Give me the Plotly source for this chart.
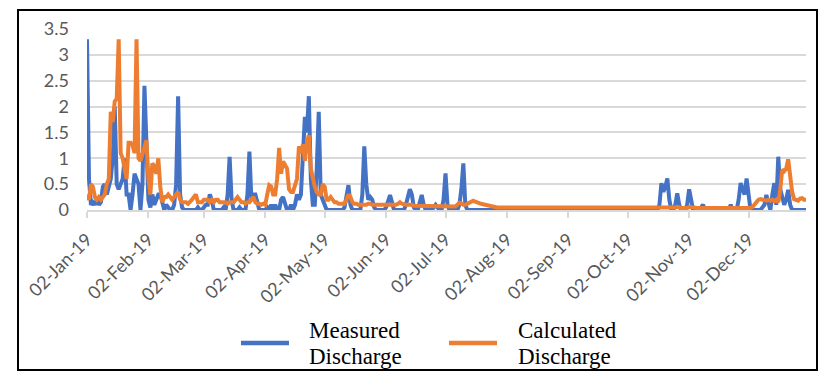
import plotly.graph_objects as go
import pandas as pd

# ---------------- data (daily, 02-Jan-2019 .. 31-Dec-2019) ----------------
start_date = "2019-01-02"
end_date = "2019-12-31"

measured_jan = [3.3, 0.6, 0.1, 0.15, 0.1, 0.2, 0.1, 0.15, 0.45, 0.5, 0.3, 0.45, 0.6, 1.0, 2.0,
                0.5, 0.4, 0.5, 0.6, 1.0, 0.3, 0.3, 0.0, 0.3, 0.7, 0.6, 0.5, 0.0, 0.5, 2.4]
measured_feb = [1.0, 0.2, 0.05, 0.3, 0.1, 0.2, 0.3, 0.3, 0.1, 0.0, 0.1, 0.05, 0.0, 0.0, 0.1,
                0.5, 2.2, 0.3, 0.05, 0.0, 0.0, 0.0, 0.0, 0.0, 0.0, 0.0, 0.05, 0.0]
measured_mar = [0.0, 0.05, 0.1, 0.1, 0.3, 0.2, 0.0, 0.0, 0.0, 0.0, 0.0, 0.05, 0.0, 0.3, 1.03,
                0.2, 0.0, 0.0, 0.0, 0.05, 0.0, 0.0, 0.0, 0.3, 1.13, 0.2, 0.3, 0.3, 0.1, 0.0, 0.0]
measured_apr = [0.0, 0.0, 0.05, 0.0, 0.1, 0.0, 0.1, 0.0, 0.0, 0.2, 0.25, 0.1, 0.0, 0.0, 0.1,
                0.0, 0.1, 0.3, 0.2, 0.3, 1.0, 1.8, 1.5, 2.2, 0.6, 0.1, 0.1, 0.8, 1.9, 0.3]
measured_may = [0.2, 0.1, 0.0, 0.0, 0.0, 0.0, 0.0, 0.0, 0.0, 0.0, 0.0, 0.05, 0.3, 0.48, 0.1,
                0.0, 0.0, 0.0, 0.0, 0.0, 0.3, 1.23, 0.5, 0.2, 0.25, 0.2, 0.05, 0.0, 0.0, 0.0, 0.0]
measured_jun = [0.0, 0.05, 0.2, 0.29, 0.15, 0.0, 0.0, 0.0, 0.0, 0.0, 0.0, 0.1, 0.3, 0.4, 0.3,
                0.05, 0.0, 0.0, 0.15, 0.29, 0.1, 0.0, 0.0, 0.0, 0.0, 0.05, 0.1, 0.05, 0.0, 0.0]
measured_jul = [0.2, 0.71, 0.1, 0.0, 0.0, 0.0, 0.0, 0.0, 0.1, 0.4, 0.9, 0.1, 0.0, 0.0, 0.0,
                0.0, 0.0, 0.0, 0.0, 0.0, 0.0, 0.0, 0.0, 0.0, 0.0, 0.0, 0.0, 0.0, 0.0, 0.0, 0.0]
measured_aug = [0.0, 0.0, 0.0, 0.0, 0.0, 0.0, 0.0, 0.0, 0.0, 0.0, 0.0, 0.0, 0.0, 0.0, 0.0,
                0.0, 0.0, 0.0, 0.0, 0.0, 0.0, 0.0, 0.0, 0.0, 0.0, 0.0, 0.0, 0.0, 0.0, 0.0, 0.0]
measured_sep = [0.0, 0.0, 0.0, 0.0, 0.0, 0.0, 0.0, 0.0, 0.0, 0.0, 0.0, 0.0, 0.0, 0.0, 0.0,
                0.0, 0.0, 0.0, 0.0, 0.0, 0.0, 0.0, 0.0, 0.0, 0.0, 0.0, 0.0, 0.0, 0.0, 0.0]
measured_oct = [0.0, 0.0, 0.0, 0.0, 0.0, 0.0, 0.0, 0.0, 0.0, 0.0, 0.0, 0.0, 0.0, 0.0, 0.0,
                0.0, 0.0, 0.1, 0.52, 0.35, 0.45, 0.61, 0.2, 0.0, 0.0, 0.1, 0.32, 0.1, 0.0, 0.0, 0.0]
measured_nov = [0.1, 0.4, 0.2, 0.0, 0.0, 0.0, 0.0, 0.05, 0.1, 0.0, 0.0, 0.0, 0.0, 0.0, 0.0,
                0.0, 0.0, 0.0, 0.0, 0.0, 0.0, 0.0, 0.1, 0.0, 0.0, 0.0, 0.2, 0.52, 0.4, 0.3]
measured_dec = [0.61, 0.3, 0.0, 0.0, 0.0, 0.0, 0.0, 0.0, 0.05, 0.1, 0.29, 0.1, 0.0, 0.3, 0.52,
                0.1, 1.03, 0.4, 0.2, 0.1, 0.2, 0.39, 0.1, 0.0, 0.0, 0.0, 0.0, 0.0, 0.0, 0.0, 0.0]

calculated_jan = [0.3, 0.2, 0.5, 0.45, 0.25, 0.2, 0.25, 0.2, 0.25, 0.3, 0.5, 0.6, 1.9, 1.7, 2.1,
                  2.15, 3.3, 1.1, 1.0, 0.8, 0.6, 1.3, 1.3, 1.25, 1.1, 3.3, 1.0, 0.95, 1.1, 1.25]
calculated_feb = [1.35, 0.6, 0.3, 0.9, 0.85, 0.7, 1.0, 0.45, 0.15, 0.25, 0.25, 0.3, 0.25, 0.2, 0.25,
                  0.3, 0.35, 0.2, 0.15, 0.15, 0.15, 0.12, 0.15, 0.2, 0.25, 0.3, 0.15, 0.15]
calculated_mar = [0.15, 0.2, 0.2, 0.2, 0.15, 0.2, 0.15, 0.2, 0.2, 0.15, 0.15, 0.15, 0.15, 0.12, 0.15,
                  0.15, 0.15, 0.2, 0.25, 0.2, 0.15, 0.15, 0.12, 0.15, 0.15, 0.2, 0.25, 0.15, 0.12, 0.12, 0.1]
calculated_apr = [0.12, 0.1, 0.3, 0.48, 0.45, 0.3, 0.3, 0.6, 1.2, 0.7, 0.94, 0.85, 0.8, 0.4, 0.35,
                  0.35, 0.5, 0.6, 1.23, 1.1, 1.27, 0.95, 1.3, 1.45, 0.8, 0.6, 0.45, 0.35, 0.3, 0.3]
calculated_may = [0.5, 0.45, 0.2, 0.2, 0.25, 0.2, 0.15, 0.15, 0.12, 0.12, 0.12, 0.12, 0.2, 0.3, 0.25,
                  0.15, 0.12, 0.12, 0.1, 0.1, 0.1, 0.1, 0.1, 0.12, 0.12, 0.1, 0.1, 0.1, 0.1, 0.1, 0.1]
calculated_jun = [0.1, 0.1, 0.1, 0.1, 0.1, 0.1, 0.1, 0.12, 0.15, 0.12, 0.1, 0.1, 0.1, 0.1, 0.1,
                  0.08, 0.08, 0.08, 0.08, 0.08, 0.08, 0.08, 0.08, 0.08, 0.08, 0.07, 0.07, 0.07, 0.07, 0.07]
calculated_jul = [0.07, 0.07, 0.07, 0.07, 0.07, 0.07, 0.07, 0.1, 0.14, 0.13, 0.1, 0.1, 0.12, 0.15, 0.17,
                  0.18, 0.16, 0.14, 0.13, 0.12, 0.11, 0.1, 0.09, 0.08, 0.07, 0.06, 0.06, 0.05, 0.05, 0.05, 0.05]
calculated_aug = [0.05, 0.05, 0.05, 0.05, 0.05, 0.05, 0.05, 0.05, 0.05, 0.05, 0.05, 0.05, 0.05, 0.05, 0.05,
                  0.05, 0.05, 0.05, 0.04, 0.04, 0.04, 0.04, 0.04, 0.04, 0.04, 0.04, 0.04, 0.04, 0.04, 0.04, 0.04]
calculated_sep = [0.04, 0.04, 0.04, 0.04, 0.04, 0.04, 0.04, 0.04, 0.04, 0.04, 0.04, 0.04, 0.04, 0.04, 0.04,
                  0.04, 0.04, 0.04, 0.04, 0.04, 0.04, 0.04, 0.04, 0.04, 0.04, 0.04, 0.04, 0.04, 0.04, 0.04]
calculated_oct = [0.04, 0.04, 0.04, 0.04, 0.04, 0.04, 0.04, 0.04, 0.04, 0.04, 0.04, 0.04, 0.04, 0.04, 0.04,
                  0.04, 0.04, 0.04, 0.04, 0.04, 0.04, 0.04, 0.04, 0.04, 0.04, 0.05, 0.06, 0.04, 0.04, 0.04, 0.04]
calculated_nov = [0.04, 0.06, 0.05, 0.04, 0.04, 0.04, 0.04, 0.04, 0.04, 0.04, 0.04, 0.04, 0.04, 0.04, 0.04,
                  0.04, 0.04, 0.04, 0.04, 0.04, 0.04, 0.04, 0.04, 0.04, 0.04, 0.04, 0.04, 0.04, 0.04, 0.04]
calculated_dec = [0.04, 0.04, 0.04, 0.06, 0.1, 0.15, 0.2, 0.21, 0.2, 0.2, 0.18, 0.2, 0.18, 0.2, 0.17,
                  0.2, 0.15, 0.4, 0.78, 0.75, 0.8, 0.98, 0.65, 0.35, 0.21, 0.2, 0.18, 0.22, 0.23, 0.2, 0.2]

tick_dates = ["2019-01-02", "2019-02-02", "2019-03-02", "2019-04-02", "2019-05-02", "2019-06-02",
              "2019-07-02", "2019-08-02", "2019-09-02", "2019-10-02", "2019-11-02", "2019-12-02"]
tick_labels = ["02-Jan-19", "02-Feb-19", "02-Mar-19", "02-Apr-19", "02-May-19", "02-Jun-19",
               "02-Jul-19", "02-Aug-19", "02-Sep-19", "02-Oct-19", "02-Nov-19", "02-Dec-19"]

series_names = ["Measured", "Calculated"]
series_colors = ["#4472C4", "#ED7D31"]

measured = (measured_jan + measured_feb + measured_mar + measured_apr + measured_may + measured_jun +
            measured_jul + measured_aug + measured_sep + measured_oct + measured_nov + measured_dec)
calculated = (calculated_jan + calculated_feb + calculated_mar + calculated_apr + calculated_may +
              calculated_jun + calculated_jul + calculated_aug + calculated_sep + calculated_oct +
              calculated_nov + calculated_dec)
dates = pd.date_range(start_date, end_date, freq="D")

# ---------------- figure ----------------
W, H = 831, 381
L, R, T, B = 87, 25, 29, 171
PW, PH = W - L - R, H - T - B


def px(x):
    return (x - L) / PW


def py(y):
    return (H - B - y) / PH


fig = go.Figure()
fig.add_trace(go.Scatter(x=dates, y=measured, mode="lines", name="Measured Discharge",
                         line=dict(color=series_colors[0], width=4)))
fig.add_trace(go.Scatter(x=dates, y=calculated, mode="lines", name="Calculated Discharge",
                         line=dict(color=series_colors[1], width=4)))

tick_font = dict(family="Lato, Carlito, sans-serif", size=18, color="#595959")

fig.update_layout(
    width=W, height=H,
    margin=dict(l=L, r=R, t=T, b=B, pad=0),
    paper_bgcolor="white", plot_bgcolor="white",
    showlegend=False,
    xaxis=dict(type="date", range=[start_date, end_date],
               tickmode="array", tickvals=tick_dates, ticktext=tick_labels,
               tickangle=-45, ticks="outside", ticklen=6, tickwidth=2, tickcolor="#D9D9D9",
               showline=True, linecolor="#D9D9D9", linewidth=2, ticklabelstandoff=4,
               showgrid=False, zeroline=False, tickfont=tick_font),
    yaxis=dict(range=[0, 3.5], tick0=0, dtick=0.5, showgrid=True, gridcolor="#D9D9D9",
               gridwidth=2, zeroline=False, showline=False, ticks="",
               ticklabelstandoff=17, tickfont=tick_font),
)

# outer chart border
fig.add_shape(type="rect", xref="paper", yref="paper",
              x0=px(18), x1=px(817), y0=py(370), y1=py(10),
              line=dict(color="black", width=2), fillcolor="rgba(0,0,0,0)")

# legend (two-line labels with long line samples)
legend_x_line = [(241, 289), (449, 497)]
legend_x_text = [307, 516]
for i in range(2):
    fig.add_shape(type="line", xref="paper", yref="paper",
                  x0=px(legend_x_line[i][0]), x1=px(legend_x_line[i][1]),
                  y0=py(343), y1=py(343),
                  line=dict(color=series_colors[i], width=4.5))
    for txt, yc in ((series_names[i], 330.5), ("Discharge", 356.5)):
        fig.add_annotation(xref="paper", yref="paper", x=px(legend_x_text[i]), y=py(yc),
                           xanchor="left", yanchor="middle", text=txt, showarrow=False,
                           font=dict(family="Liberation Serif, Times New Roman, serif",
                                     size=23, color="black"))

fig.write_html("out.html", config={"displayModeBar": False},
               post_script="document.body.style.margin='0';")
